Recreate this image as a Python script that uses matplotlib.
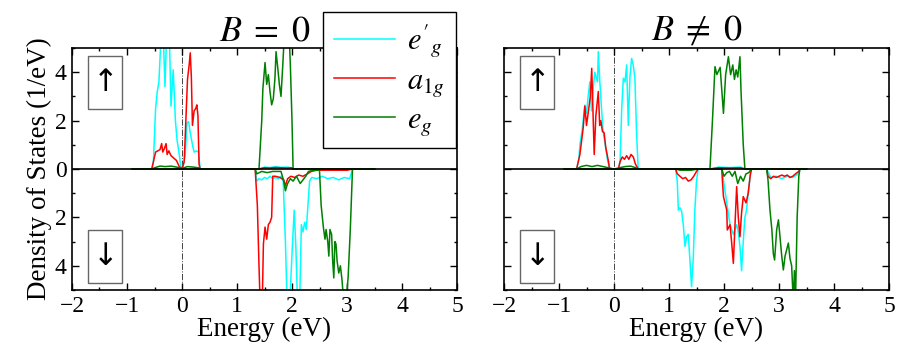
import numpy as np
import matplotlib
matplotlib.use('Agg')
import matplotlib.pyplot as plt
from matplotlib.patches import Rectangle
from matplotlib.ticker import MultipleLocator, FuncFormatter

plt.rcParams['font.family'] = ['Liberation Serif', 'DejaVu Serif']
plt.rcParams['mathtext.fontset'] = 'stix'

# ---------------- B = 0 : spin up ----------------
b0_up_eg1_x = [-0.9, -0.55, -0.52, -0.48, -0.45, -0.42, -0.38, -0.34, -0.31, -0.28, -0.23, -0.20, -0.16,
               -0.12, -0.09, -0.05, -0.02, 0.02, 0.06, 0.09, 0.12, 0.15, 0.19, 0.22, 0.26, 0.30, 0.33, 1.40,
               1.50, 1.60, 1.70, 1.80, 1.90, 2.00, 2.02, 3.5]
b0_up_eg1_y = [0, 0, 0.3, 2.5, 3.2, 3.6, 5.5, 5.5, 3.4, 5.5, 5.5, 2.6, 4.1,
               2.0, 1.2, 0.6, 0.05, 0.1, 0.6, 1.9, 1.96, 1.5, 1.0, 0.7, 0.75, 0.7, 0, 0,
               0.08, 0.06, 0.1, 0.07, 0.08, 0.05, 0, 0]

b0_up_a1g_x = [-0.9, -0.55, -0.52, -0.48, -0.44, -0.40, -0.37, -0.35, -0.32, -0.29, -0.27, -0.24, -0.20,
               -0.15, -0.10, -0.05, 0.0, 0.04, 0.07, 0.10, 0.13, 0.15, 0.17, 0.19, 0.22, 0.25, 0.27, 0.29,
               0.31, 0.33, 1.40, 1.50, 1.60, 1.70, 1.80, 1.90, 2.00, 2.02, 3.5]
b0_up_a1g_y = [0, 0, 0.3, 0.7, 0.75, 0.8, 1.05, 0.7, 0.85, 1.05, 0.6, 0.75, 0.55,
               0.45, 0.35, 0.1, 0.0, 0.3, 2.0, 3.7, 4.3, 4.8, 3.8, 1.8, 2.4, 2.5, 2.65, 2.2,
               0.2, 0, 0, 0.05, 0.04, 0.06, 0.05, 0.04, 0.05, 0, 0]

b0_up_eg_x = [-0.9, -0.55, -0.50, -0.40, -0.30, -0.20, -0.10, 0.0, 0.10, 0.20, 0.30, 0.33, 1.40,
              1.45, 1.47, 1.51, 1.54, 1.57, 1.60, 1.63, 1.66, 1.69, 1.71, 1.74, 1.77, 1.80, 1.83,
              1.86, 1.90, 1.95, 1.97, 2.00, 2.02, 3.5]
b0_up_eg_y = [0, 0, 0.05, 0.12, 0.1, 0.12, 0.08, 0.02, 0.1, 0.08, 0.05, 0, 0,
              2.0, 3.3, 4.4, 3.5, 3.9, 3.2, 2.65, 2.9, 3.75, 4.85, 4.2, 3.5, 3.0, 4.2,
              5.5, 5.5, 5.5, 4.3, 2.0, 0, 0]

# ---------------- B = 0 : spin down (magnitudes) ----------------
b0_dn_eg1_x = [-0.9, 1.33, 1.36, 1.40, 1.45, 1.50, 1.55, 1.60, 1.65, 1.70, 1.75, 1.80, 1.84, 1.88,
               1.91, 1.96, 2.00, 2.04, 2.07, 2.10, 2.14, 2.17, 2.20, 2.23, 2.26, 2.29, 2.32, 2.36,
               2.45, 2.55, 2.65, 2.75, 2.85, 2.95, 3.05, 3.10, 3.5]
b0_dn_eg1_y = [0, 0, 0.5, 0.4, 0.45, 0.35, 0.4, 0.3, 0.4, 0.35, 0.4, 0.3, 0.5, 3.0,
               5.5, 5.5, 3.5, 1.7, 3.2, 5.5, 5.5, 2.3, 2.6, 2.2, 2.5, 1.5, 0.5, 0.35,
               0.4, 0.3, 0.4, 0.35, 0.45, 0.35, 0.4, 0, 0]

b0_dn_a1g_x = [-0.9, 1.33, 1.37, 1.40, 1.42, 1.46, 1.48, 1.51, 1.54, 1.57, 1.60, 1.63, 1.65, 1.70,
               1.78, 1.85, 1.88, 1.92, 1.98, 2.05, 2.12, 2.20, 2.28, 2.35, 2.45, 2.60, 2.80, 3.00,
               3.10, 3.5]
b0_dn_a1g_y = [0, 0, 1.5, 4.0, 5.5, 5.5, 3.1, 2.4, 2.9, 2.3, 2.2, 2.0, 0.3, 0.3,
               0.35, 0.45, 0.7, 0.4, 0.3, 0.35, 0.25, 0.3, 0.2, 0.1, 0.05, 0.05, 0.05, 0.05,
               0, 0]

b0_dn_eg_x = [-0.9, 1.33, 1.36, 1.45, 1.55, 1.65, 1.80, 1.85, 1.88, 1.92, 1.97, 2.02, 2.08, 2.15,
              2.20, 2.25, 2.30, 2.40, 2.50, 2.53, 2.57, 2.60, 2.62, 2.65, 2.67, 2.69, 2.72, 2.74,
              2.76, 2.78, 2.80, 2.82, 2.85, 2.88, 2.91, 2.94, 2.98, 3.02, 3.06, 3.10, 3.5]
b0_dn_eg_y = [0, 0, 0.2, 0.1, 0.15, 0.1, 0.1, 0.5, 0.9, 0.6, 0.4, 0.5, 0.3, 0.6,
              0.45, 0.3, 0.1, 0.05, 0.05, 1.5, 2.4, 2.9, 2.5, 3.0, 3.6, 2.5, 2.7, 3.8,
              4.5, 3.0, 3.1, 3.8, 4.3, 4.0, 4.6, 5.5, 5.5, 4.5, 2.5, 0, 0]

# ---------------- B != 0 : spin up ----------------
b1_up_eg1_x = [-0.9, -0.68, -0.64, -0.62, -0.58, -0.53, -0.50, -0.47, -0.44, -0.41, -0.38, -0.35,
               -0.30, -0.285, -0.26, -0.23, -0.20, -0.16, -0.12, -0.08, 0.08, 0.11, 0.14, 0.17,
               0.20, 0.23, 0.26, 0.29, 0.32, 0.35, 0.38, 0.41, 0.44, 1.75, 1.9, 2.1, 2.3, 2.38, 3.5]
b1_up_eg1_y = [0, 0, 0.4, 1.0, 1.6, 2.64, 2.3, 3.0, 3.6, 2.4, 3.26, 4.0,
               3.6, 4.85, 3.7, 2.6, 1.6, 1.0, 0.4, 0, 0, 0.3, 2.5, 3.75,
               3.6, 4.3, 1.8, 3.8, 4.57, 4.3, 3.75, 1.5, 0, 0, 0.08, 0.06, 0.08, 0, 0]

b1_up_a1g_x = [-0.9, -0.68, -0.62, -0.56, -0.53, -0.50, -0.47, -0.43, -0.405, -0.38, -0.36, -0.33,
               -0.285, -0.26, -0.24, -0.21, -0.18, -0.15, -0.10, -0.08, 0.08, 0.11, 0.15, 0.19,
               0.23, 0.27, 0.31, 0.35, 0.39, 0.44, 1.75, 1.9, 2.1, 2.3, 2.38, 3.5]
b1_up_a1g_y = [0, 0, 0.6, 1.7, 2.6, 1.8, 2.3, 3.0, 4.16, 2.2, 0.6, 2.2,
               3.2, 1.8, 2.0, 1.55, 1.5, 0.9, 0.3, 0, 0, 0.3, 0.5, 0.4,
               0.55, 0.4, 0.6, 0.5, 0.2, 0, 0, 0.05, 0.04, 0.05, 0, 0]

b1_up_eg_x = [-0.9, -0.68, -0.60, -0.50, -0.40, -0.30, -0.20, -0.10, 0.0, 0.10, 0.20, 0.30, 0.40,
              0.44, 1.745, 1.79, 1.836, 1.87, 1.93, 1.99, 2.03, 2.08, 2.12, 2.16, 2.19, 2.22,
              2.25, 2.29, 2.31, 2.35, 2.38, 3.5]
b1_up_eg_y = [0, 0, 0.1, 0.15, 0.1, 0.15, 0.1, 0.05, 0, 0.05, 0.1, 0.12, 0.05,
              0, 0, 2.0, 4.23, 3.9, 4.2, 2.3, 3.9, 4.64, 3.9, 4.3, 3.7, 4.1,
              3.8, 4.64, 3.2, 1.0, 0, 0]

# ---------------- B != 0 : spin down (magnitudes) ----------------
b1_dn_eg1_x = [-0.9, 1.12, 1.15, 1.17, 1.20, 1.23, 1.26, 1.29, 1.32, 1.35, 1.38, 1.41, 1.44, 1.47,
               1.50, 1.53, 1.96, 1.99, 2.05, 2.11, 2.17, 2.23, 2.26, 2.29, 2.32, 2.35, 2.38, 2.41,
               2.44, 2.47, 2.50, 2.776, 2.85, 2.95, 3.05, 3.15, 3.25, 3.35, 3.38, 3.5]
b1_dn_eg1_y = [0, 0, 0.5, 1.7, 1.6, 1.75, 2.3, 3.2, 2.8, 2.7, 3.75, 4.86, 3.75, 1.7,
               0.5, 0, 0, 0.45, 1.4, 2.3, 2.7, 2.3, 2.6, 3.2, 4.2, 3.0, 2.0, 1.7,
               1.0, 0.4, 0, 0, 0.35, 0.3, 0.4, 0.3, 0.35, 0.2, 0, 0]

b1_dn_a1g_x = [-0.9, 1.12, 1.15, 1.20, 1.25, 1.30, 1.35, 1.40, 1.45, 1.50, 1.53, 1.96, 1.97, 1.99,
               2.05, 2.06, 2.11, 2.14, 2.17, 2.20, 2.23, 2.26, 2.29, 2.32, 2.35, 2.40, 2.44, 2.48,
               2.50, 2.776, 2.80, 2.85, 2.90, 2.95, 3.00, 3.05, 3.10, 3.15, 3.20, 3.25, 3.30,
               3.36, 3.38, 3.5]
b1_dn_a1g_y = [0, 0, 0.2, 0.3, 0.4, 0.35, 0.5, 0.45, 0.3, 0.1, 0, 0, 0.45, 1.14,
               1.7, 2.52, 2.3, 3.06, 3.9, 2.3, 0.73, 2.0, 2.8, 1.8, 1.14, 1.4, 1.0, 0.2,
               0, 0, 0.3, 0.4, 0.3, 0.35, 0.3, 0.25, 0.3, 0.25, 0.35, 0.3, 0.2,
               0.1, 0, 0]

b1_dn_eg_x = [-0.9, 1.12, 1.20, 1.30, 1.40, 1.53, 1.96, 2.00, 2.05, 2.10, 2.15, 2.20, 2.25, 2.30,
              2.35, 2.40, 2.45, 2.50, 2.776, 2.80, 2.836, 2.87, 2.897, 2.92, 2.958, 2.99, 3.018,
              3.05, 3.079, 3.11, 3.17, 3.20, 3.23, 3.26, 3.28, 3.30, 3.33, 3.36, 3.38, 3.5]
b1_dn_eg_y = [0, 0, 0.05, 0.05, 0.05, 0, 0, 0.3, 0.15, 0.1, 0.3, 0.1, 0.6, 0.3,
              0.5, 0.2, 0.15, 0, 0, 0.45, 1.7, 2.5, 3.5, 3.76, 2.5, 2.1, 2.8,
              3.6, 4.17, 3.6, 3.06, 3.7, 4.0, 5.5, 4.2, 5.5, 2.0, 0.3, 0, 0]

titles = ['$B\\;=\\;0$', '$B\\;\\neq\\;0$']
labels = ["$e'_g$", '$a_{1g}$', '$e_g$']
colors = ['#00ffff', '#ff0000', '#008000']
yticks = [-4, -2, 0, 2, 4]

panels = [
    ([(b0_up_eg1_x, b0_up_eg1_y), (b0_up_a1g_x, b0_up_a1g_y), (b0_up_eg_x, b0_up_eg_y)],
     [(b0_dn_eg1_x, b0_dn_eg1_y), (b0_dn_a1g_x, b0_dn_a1g_y), (b0_dn_eg_x, b0_dn_eg_y)]),
    ([(b1_up_eg1_x, b1_up_eg1_y), (b1_up_a1g_x, b1_up_a1g_y), (b1_up_eg_x, b1_up_eg_y)],
     [(b1_dn_eg1_x, b1_dn_eg1_y), (b1_dn_a1g_x, b1_dn_a1g_y), (b1_dn_eg_x, b1_dn_eg_y)]),
]

fig = plt.figure(figsize=(9.15, 3.62), dpi=100)
lefts = [72 / 915, 504 / 915]
handles = []

for k in range(2):
    ax = fig.add_axes([lefts[k], 72 / 362, 385 / 915, 242 / 362])
    up, dn = panels[k]
    for j in range(3):
        h, = ax.plot(up[j][0], up[j][1], color=colors[j], lw=1.1, label=labels[j])
        ax.plot(dn[j][0], -np.array(dn[j][1]), color=colors[j], lw=1.1)
        if k == 0:
            handles.append(h)
    ax.axhline(0, color='black', lw=1.2, zorder=3)
    ax.axvline(0, color='#444444', lw=0.7, ls='-.', zorder=1)

    ax.set_xlim(-2, 5)
    ax.set_ylim(-5, 5)
    ax.xaxis.set_major_locator(MultipleLocator(1))
    ax.xaxis.set_minor_locator(MultipleLocator(0.5))
    ax.set_yticks(yticks)
    ax.yaxis.set_minor_locator(MultipleLocator(1))
    ax.tick_params(which='both', direction='in', top=True, right=True, width=1.0)
    ax.tick_params(which='major', length=5, labelsize=17, pad=4,
                   labelfontfamily='Liberation Serif')
    ax.tick_params(which='minor', length=2.5)
    ax.yaxis.set_major_formatter(FuncFormatter(lambda v, p: '%d' % abs(v)))
    if k == 1:
        ax.set_yticklabels([])
    else:
        ax.set_ylabel('Density of States (1/eV)', fontsize=19.5, labelpad=2)
    ax.set_xlabel('Energy (eV)', fontsize=19.5, labelpad=0)
    for s in ax.spines.values():
        s.set_linewidth(1.2)
    ax.set_title(titles[k], fontsize=26, pad=4)

    # spin arrows in boxes
    for yc, arr in [(0.857, '\u2191'), (0.138, '\u2193')]:
        ax.add_patch(Rectangle((0.086 - 0.044, yc - 0.11), 0.088, 0.22, transform=ax.transAxes,
                               facecolor='white', edgecolor='#666666', lw=1.0, zorder=4))
        ax.text(0.086, yc, arr, transform=ax.transAxes, ha='center', va='center',
                fontsize=22, family=['DejaVu Sans'], zorder=5)

leg = fig.legend(handles=handles, loc='upper left', bbox_to_anchor=(323 / 915, 1 - 12 / 362),
                 fontsize=22, frameon=True, fancybox=False, edgecolor='black', framealpha=1,
                 handlelength=2.0, labelspacing=0.22, borderpad=0.35, handletextpad=0.4,
                 borderaxespad=0)
leg.get_frame().set_linewidth(1.0)

fig.savefig('out.png', dpi=100)
